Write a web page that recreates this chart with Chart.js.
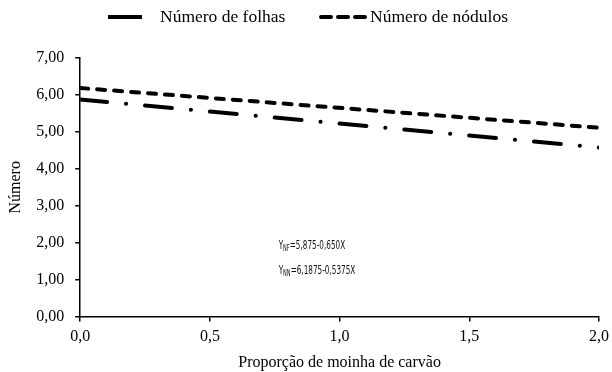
<!DOCTYPE html>
<html>
<head>
<meta charset="utf-8">
<script src="https://cdn.jsdelivr.net/npm/chart.js@4/dist/chart.umd.min.js"></script>
<style>
  html, body { margin: 0; padding: 0; background: #fff; }
  #wrap { width: 612px; height: 372px; position: relative; }
</style>
</head>
<body>
<div id="wrap"><canvas id="c" width="612" height="372"></canvas></div>
<script>
// Proportion of charcoal fines (x) and fitted responses at the ends of the range
const proporcao = [0, 2];
const numeroFolhas = [5.875, 4.575];
const numeroNodulos = [6.1875, 5.1125];

const serieNomes = ['Número de folhas', 'Número de nódulos'];
const equacoes = [
  { base: 'Y', sub: 'NF', resto: '=5,875-0,650X' },
  { base: 'Y', sub: 'NN', resto: '=6,1875-0,5375X' }
];
const equacaoPos = [[0.765, 1.93], [0.765, 1.25]];

const FONT = '"Liberation Serif", "Times New Roman", serif';

const toXY = (ys) => proporcao.map((x, i) => ({ x, y: ys[i] }));

const commaFmt = (d) => (v) => v.toFixed(d).replace('.', ',');

// Legend drawn as line samples followed by the series name
const legendPlugin = {
  id: 'topLegend',
  afterDraw(chart) {
    const ctx = chart.ctx;
    const y = 17;
    ctx.save();
    ctx.strokeStyle = '#000';
    ctx.lineWidth = 4;
    ctx.lineCap = 'butt';
    // dash-dot sample (only the long dash fits)
    ctx.beginPath();
    ctx.moveTo(108, y); ctx.lineTo(142, y);
    ctx.stroke();
    // dashed sample
    ctx.lineCap = 'round';
    ctx.setLineDash([10, 7]);
    ctx.beginPath();
    ctx.moveTo(321, y); ctx.lineTo(367, y);
    ctx.stroke();
    ctx.setLineDash([]);
    ctx.fillStyle = '#000';
    ctx.font = '17.5px ' + FONT;
    ctx.textBaseline = 'middle';
    ctx.fillText(serieNomes[0], 160, y);
    ctx.fillText(serieNomes[1], 370, y);
    ctx.restore();
  }
};

// Regression equations written inside the plot
const equationPlugin = {
  id: 'equations',
  afterDraw(chart) {
    const ctx = chart.ctx;
    const xs = chart.scales.x, ys = chart.scales.y;
    ctx.save();
    ctx.fillStyle = '#111';
    ctx.textBaseline = 'alphabetic';
    equacoes.forEach((eq, i) => {
      const px = xs.getPixelForValue(equacaoPos[i][0]);
      const py = ys.getPixelForValue(equacaoPos[i][1]);
      ctx.save();
      ctx.translate(px, py + 4);
      ctx.scale(0.56, 1);
      let cx = 0;
      ctx.font = '13px "DejaVu Sans", sans-serif';
      ctx.fillText(eq.base, cx, 0);
      cx += ctx.measureText(eq.base).width;
      ctx.font = '9px "DejaVu Sans", sans-serif';
      ctx.fillText(eq.sub, cx, 2);
      cx += ctx.measureText(eq.sub).width;
      ctx.font = '13px "DejaVu Sans", sans-serif';
      ctx.fillText(eq.resto, cx, 0);
      ctx.restore();
    });
    ctx.restore();
  }
};

new Chart(document.getElementById('c'), {
  type: 'line',
  data: {
    datasets: [
      {
        label: serieNomes[0],
        data: toXY(numeroFolhas),
        borderColor: '#000',
        borderWidth: 4,
        borderDash: [27, 19, 0.1, 19],
        borderCapStyle: 'round',
        pointRadius: 0,
        fill: false,
        tension: 0
      },
      {
        label: serieNomes[1],
        data: toXY(numeroNodulos),
        borderColor: '#000',
        borderWidth: 4,
        borderDash: [8, 9],
        borderCapStyle: 'round',
        pointRadius: 0,
        fill: false,
        tension: 0
      }
    ]
  },
  options: {
    responsive: false,
    animation: false,
    devicePixelRatio: 1,
    layout: { padding: { top: 58, right: 13, left: 0, bottom: 0 } },
    plugins: {
      legend: { display: false },
      tooltip: { enabled: false }
    },
    scales: {
      x: {
        type: 'linear',
        min: 0, max: 2,
        afterFit: (scale) => { scale.paddingRight = 0; },
        ticks: { stepSize: 0.5, callback: commaFmt(1), color: '#000', font: { family: FONT, size: 16 }, padding: 6, maxRotation: 0 },
        grid: { drawOnChartArea: false, drawTicks: true, tickLength: 5, color: '#000', lineWidth: 1.5 },
        border: { color: '#000', width: 1.5 },
        title: { display: true, text: 'Proporção de moinha de carvão', color: '#000', font: { family: FONT, size: 16 }, padding: { top: 0, bottom: 0 } }
      },
      y: {
        min: 0, max: 7,
        ticks: { stepSize: 1, callback: commaFmt(2), color: '#000', font: { family: FONT, size: 16 }, padding: 11 },
        grid: { drawOnChartArea: false, drawTicks: true, tickLength: 5, color: '#000', lineWidth: 1.5 },
        border: { color: '#000', width: 1.5 },
        title: { display: true, text: 'Número', color: '#000', font: { family: FONT, size: 16 }, padding: { top: 6, bottom: 0 } }
      }
    }
  },
  plugins: [legendPlugin, equationPlugin]
});
</script>
</body>
</html>
